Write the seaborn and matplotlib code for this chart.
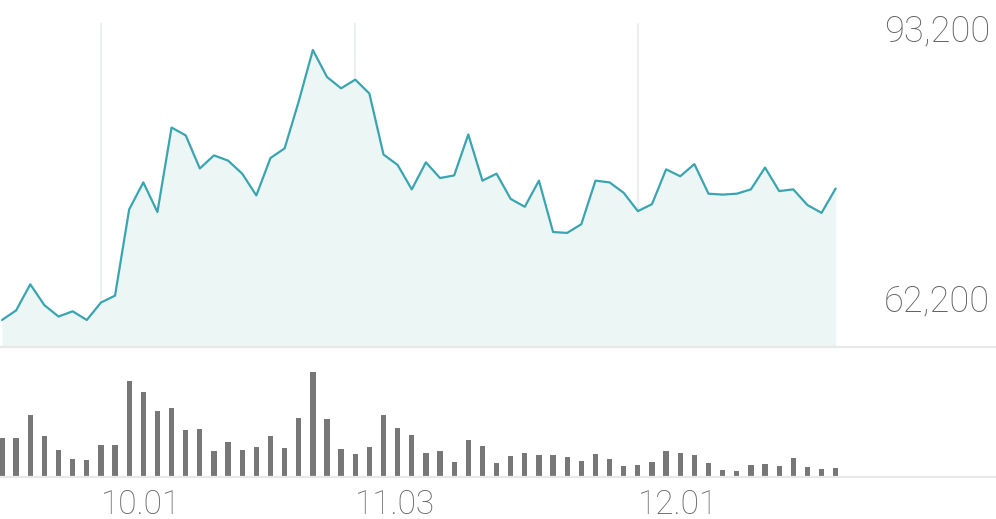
import matplotlib
matplotlib.use("Agg")
import matplotlib.pyplot as plt
import seaborn as sns
import numpy as np
import pandas as pd

# ---- data ----
price = [62200, 63300, 66300, 63900, 62600, 63200, 62200, 64200, 65000, 74900,
         78000, 74600, 84300, 83400, 79600, 81100, 80500, 79000, 76500, 80800,
         81900, 87300, 93200, 90100, 88800, 89800, 88200, 81200, 80000, 77200,
         80300, 78500, 78800, 83500, 78200, 79000, 76100, 75200, 78200, 72300,
         72200, 73200, 78200, 78000, 76800, 74700, 75500, 79500, 78700, 80100,
         76700, 76600, 76700, 77200, 79700, 77000, 77200, 75400, 74500, 77300]

volume = [394, 387, 620, 407, 273, 180, 167, 317, 317, 960,
          847, 657, 690, 467, 483, 257, 350, 273, 300, 410,
          293, 590, 1047, 577, 280, 233, 300, 620, 490, 420,
          240, 257, 150, 367, 307, 143, 213, 240, 220, 217,
          197, 157, 233, 180, 107, 123, 147, 257, 240, 217,
          143, 67, 60, 117, 133, 107, 187, 97, 77, 90]

tick_idx = [7, 25, 45]
tick_labels = ["10.01", "11.03", "12.01"]

df = pd.DataFrame({"idx": np.arange(len(price)), "price": price, "volume": volume})

# ---- style ----
sns.set_theme(style="white")
plt.rcParams["font.family"] = ["Roboto", "DejaVu Sans"]

W, H = 996, 519
fig = plt.figure(figsize=(W / 100, H / 100), dpi=100)

line_c = "#3aa5b1"
fill_c = "#ecf6f5"
grid_c = "#ebefef"
base_c = "#e8e8e8"
text_c = "#626262"
bar_c = "#777777"

px = 14.13  # pixels per data point
x0 = 2.0    # pixel position of the first point
xlim = (-x0 / px, (W - x0) / px)

# price panel: top=0px .. bottom=347px
ax = fig.add_axes([0, (H - 347) / H, 1, 347 / H])
pmin, pmax = min(price), max(price)
upp = (pmax - pmin) / 270.0  # units per pixel
ylo = pmin - 27 * upp
yhi = pmax + 50 * upp
ax.set_xlim(*xlim)
ax.set_ylim(ylo, yhi)
for t in tick_idx:
    ax.axvline(t, ymin=0, ymax=(347 - 24) / 347, color=grid_c, lw=1.5, zorder=0)
ax.fill_between(df["idx"], df["price"], ylo, color=fill_c, lw=0, zorder=1)
sns.lineplot(data=df, x="idx", y="price", ax=ax, color=line_c, lw=1.6, zorder=2)
for s in ["top", "left", "right"]:
    ax.spines[s].set_visible(False)
ax.spines["bottom"].set_color(base_c)
ax.spines["bottom"].set_linewidth(1.6)
ax.set_xticks([])
ax.set_yticks([])
ax.set_xlabel("")
ax.set_ylabel("")

for v in (pmax, pmin):
    ax.annotate(f"{v:,}", xy=(1, v), xycoords=("axes fraction", "data"),
                xytext=(-6, 9), textcoords="offset pixels",
                ha="right", va="baseline", fontsize=26, color=text_c,
                fontweight="light")

# volume panel: bottom=477px, top=360px
axv = fig.add_axes([0, (H - 477) / H, 1, 117 / H])
axv.bar(df["idx"], df["volume"], width=0.375, color=bar_c, lw=0)
axv.set_xlim(*xlim)
axv.set_ylim(0, 1170)
for s in ["top", "left", "right"]:
    axv.spines[s].set_visible(False)
axv.spines["bottom"].set_color(base_c)
axv.spines["bottom"].set_linewidth(1.6)
axv.set_yticks([])
axv.set_xticks(tick_idx)
axv.set_xticklabels(tick_labels, fontsize=24, color=text_c, fontweight="light", ha="left")
axv.tick_params(axis="x", length=0, pad=8.5)
axv.set_xlabel("")
axv.set_ylabel("")

fig.savefig("out.png", dpi=100)
